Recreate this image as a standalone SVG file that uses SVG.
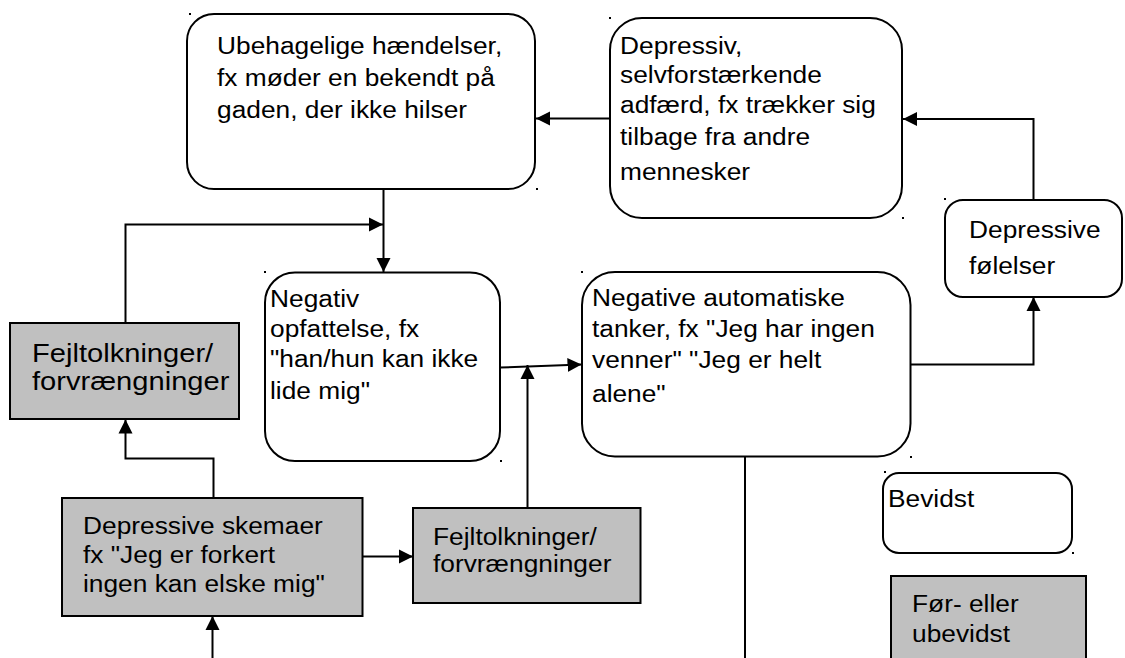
<svg xmlns="http://www.w3.org/2000/svg" width="1125" height="658" viewBox="0 0 1125 658">
<defs>
<marker id="ah" markerUnits="userSpaceOnUse" markerWidth="16" markerHeight="16" viewBox="0 0 16 16" refX="14" refY="8" orient="auto">
<path d="M0,1 L14,8 L0,15 Z" fill="#000"/>
</marker>
</defs>
<style>
.rb{fill:#fff;stroke:#000;stroke-width:2}
.gb{fill:#c0c0c0;stroke:#000;stroke-width:2}
.t{font-family:"Liberation Sans",Arial,sans-serif;font-size:23.5px;fill:#000}
.tl{font-family:"Liberation Sans",Arial,sans-serif;font-size:26px;fill:#000}
.c{fill:none;stroke:#000;stroke-width:2}
.ca{fill:none;stroke:#000;stroke-width:2;marker-end:url(#ah)}
.dot{fill:#000}
</style>
<rect width="1125" height="658" fill="#fff"/>

<g id="connectors">
<path class="ca" d="M610,118.5 H536"/>
<path class="ca" d="M1033.5,200 V119 H903"/>
<path class="ca" d="M383.5,189 V272"/>
<path class="ca" d="M125.5,323 V224.5 H383"/>
<path class="ca" d="M500,367.5 L581.5,364.5"/>
<path class="ca" d="M527.5,508 V365"/>
<path class="ca" d="M910,364.5 H1033.5 V297"/>
<path class="c" d="M745,456.5 V658"/>
<path class="ca" d="M213.5,498 V458.5 H125.5 V419.5"/>
<path class="ca" d="M362.5,556.5 H413"/>
<path class="ca" d="M212.5,658 V616"/>
</g>

<g id="ubehagelige">
<rect class="rb" x="187" y="14" width="348" height="175" rx="27"/>
<text class="t" transform="matrix(1.12 0 0 1 217 54)"><tspan x="0" y="0">Ubehagelige hændelser,</tspan><tspan x="0" y="32">fx møder en bekendt på</tspan><tspan x="0" y="64">gaden, der ikke hilser</tspan></text>
</g>

<g id="depressiv-adfaerd">
<rect class="rb" x="610" y="18" width="292" height="200" rx="32"/>
<text class="t" transform="matrix(1.12 0 0 1 620 54)"><tspan x="0" y="0">Depressiv,</tspan><tspan x="0" y="29">selvforstærkende</tspan><tspan x="0" y="59">adfærd, fx trækker sig</tspan><tspan x="0" y="91">tilbage fra andre</tspan><tspan x="0" y="126">mennesker</tspan></text>
</g>

<g id="depressive-foelelser">
<rect class="rb" x="945" y="200" width="177" height="97" rx="18"/>
<text class="t" transform="matrix(1.12 0 0 1 969 238)"><tspan x="0" y="0">Depressive</tspan><tspan x="0" y="36">følelser</tspan></text>
</g>

<g id="negativ-opfattelse">
<rect class="rb" x="265" y="272.5" width="235" height="188.5" rx="30"/>
<text class="t" transform="matrix(1.12 0 0 1 270 307)"><tspan x="0" y="0">Negativ</tspan><tspan x="0" y="30">opfattelse, fx</tspan><tspan x="0" y="60">"han/hun kan ikke</tspan><tspan x="0" y="92">lide mig"</tspan></text>
</g>

<g id="negative-tanker">
<rect class="rb" x="582" y="272" width="328.5" height="184.5" rx="33"/>
<text class="t" transform="matrix(1.12 0 0 1 592 306)"><tspan x="0" y="0">Negative automatiske</tspan><tspan x="0" y="31">tanker, fx "Jeg har ingen</tspan><tspan x="0" y="62">venner" "Jeg er helt</tspan><tspan x="0" y="96">alene"</tspan></text>
</g>

<g id="fejltolkninger-1">
<rect class="gb" x="10" y="323" width="229" height="96"/>
<text class="tl" transform="matrix(1.12 0 0 1 32 362)"><tspan x="0" y="0">Fejltolkninger/</tspan><tspan x="0" y="28">forvrængninger</tspan></text>
</g>

<g id="depressive-skemaer">
<rect class="gb" x="62" y="498" width="300.5" height="118"/>
<text class="t" transform="matrix(1.12 0 0 1 83 534)"><tspan x="0" y="0">Depressive skemaer</tspan><tspan x="0" y="29">fx "Jeg er forkert</tspan><tspan x="0" y="58">ingen kan elske mig"</tspan></text>
</g>

<g id="fejltolkninger-2">
<rect class="gb" x="413" y="508" width="227.5" height="95"/>
<text class="t" transform="matrix(1.12 0 0 1 433 545)"><tspan x="0" y="0">Fejltolkninger/</tspan><tspan x="0" y="27">forvrængninger</tspan></text>
</g>

<g id="bevidst">
<rect class="rb" x="883" y="473" width="189" height="80" rx="16"/>
<text class="t" transform="matrix(1.12 0 0 1 888 507)">Bevidst</text>
</g>

<g id="foer-eller-ubevidst">
<rect class="gb" x="891" y="576" width="195" height="95"/>
<text class="t" transform="matrix(1.12 0 0 1 912 612)"><tspan x="0" y="0">Før- eller</tspan><tspan x="0" y="30">ubevidst</tspan></text>
</g>

<g id="marks">
<rect class="dot" x="189" y="13" width="2" height="2"/>
<rect class="dot" x="536" y="188" width="2" height="2"/>
<rect class="dot" x="609" y="17" width="2" height="2"/>
<rect class="dot" x="902" y="217" width="2" height="2"/>
<rect class="dot" x="944" y="198" width="2" height="2"/>
<rect class="dot" x="264" y="271" width="2" height="2"/>
<rect class="dot" x="581" y="271" width="2" height="2"/>
<rect class="dot" x="500" y="460" width="2" height="2"/>
<rect class="dot" x="910" y="456" width="2" height="2"/>
<rect class="dot" x="884" y="471" width="2" height="2"/>
<rect class="dot" x="1072" y="552" width="2" height="2"/>
</g>
</svg>
